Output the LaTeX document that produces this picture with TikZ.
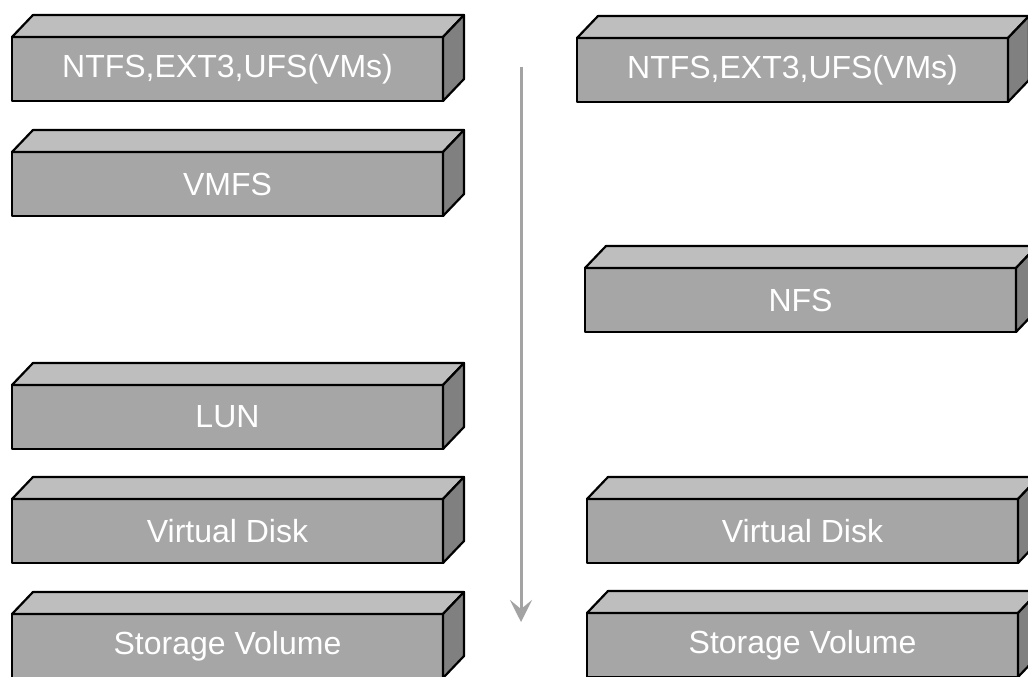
\documentclass[tikz,border=0pt]{standalone}
\usepackage{fontspec}
\setmainfont{Liberation Sans}
\usetikzlibrary{arrows.meta}
\definecolor{frontgray}{HTML}{A6A6A6}
\definecolor{topgray}{HTML}{BEBEBE}
\definecolor{sidegray}{HTML}{808080}
\definecolor{arrowgray}{HTML}{A3A3A3}
\tikzset{
  front/.style={draw=black, fill=frontgray, line width=2.2pt, line join=round,
    minimum width=431pt, minimum height=64pt, inner sep=0pt, outer sep=0pt,
    anchor=north west, text=white, font=\fontsize{32}{36}\selectfont},
  topface/.style={draw=black, fill=topgray, line width=2.2pt, line join=round},
  sideface/.style={draw=black, fill=sidegray, line width=2.2pt, line join=round},
  flowarrow/.style={draw=arrowgray, line width=3pt, -{Stealth[length=22pt,width=22pt,inset=9pt]}}
}
\newcommand\slab[4]{%
  \node[front] (#1) at (#2,#3) {\raisebox{-2pt}{#4}};
  \filldraw[topface] (#1.north west) -- ([shift={(21,-22)}]#1.north west)
     -- ([shift={(21,-22)}]#1.north east) -- (#1.north east) -- cycle;
  \filldraw[sideface] (#1.north east) -- ([shift={(21,-22)}]#1.north east)
     -- ([shift={(21,-22)}]#1.south east) -- (#1.south east) -- cycle;
}
\begin{document}
\begin{tikzpicture}[x=1pt,y=-1pt]
\path[use as bounding box] (0,0) rectangle (1028,677);
\clip (0,0) rectangle (1028,677);
\fill[white] (0,0) rectangle (1028,677);
\slab{l1}{12}{37}{NTFS,EXT3,UFS(VMs)}
\slab{l2}{12}{152}{VMFS}
\slab{l3}{12}{385}{LUN}
\slab{l4}{12}{499}{Virtual Disk}
\slab{l5}{12}{614}{Storage Volume}
\slab{r1}{577}{38}{NTFS,EXT3,UFS(VMs)}
\slab{r2}{585}{268}{NFS}
\slab{r3}{587}{499}{Virtual Disk}
\slab{r4}{587}{613}{Storage Volume}
\coordinate (a1) at (521,67);
\coordinate (a2) at (521,622);
\draw[flowarrow] (a1) -- (a2);
\end{tikzpicture}
\end{document}
